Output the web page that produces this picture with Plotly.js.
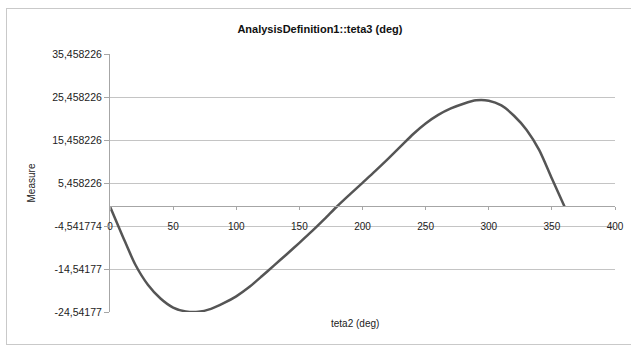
<!DOCTYPE html>
<html>
<head>
<meta charset="utf-8">
<script src="https://cdn.plot.ly/plotly-3.0.1.min.js"></script>
<style>
  html, body { margin: 0; padding: 0; background: #ffffff; }
  #frame { position: absolute; left: 6px; top: 8px; width: 640px; height: 337px;
           border: 1.5px solid #c9c9c9; box-sizing: border-box; }
  #chart { position: absolute; left: 0; top: 0; width: 631px; height: 347px; }
</style>
</head>
<body>
<div id="frame"></div>
<div id="chart"></div>
<script>
// teta2 (deg)
const teta2 = [0, 10, 20, 30, 40, 50, 60, 70, 80, 90, 100, 110, 120, 130, 140, 150, 160, 170, 180,
               190, 200, 210, 220, 230, 240, 250, 260, 270, 280, 290, 300, 310, 320, 330, 340, 350, 360];
// teta3 (deg)
const teta3 = [0, -6.9, -13.5, -18.2, -21.4, -23.5, -24.4, -24.5, -23.8, -22.5, -20.9, -18.8, -16.3,
               -13.7, -11.1, -8.45, -5.75, -2.9, 0.05, 2.8, 5.5, 8.2, 11.0, 13.9, 16.8, 19.3, 21.3,
               22.8, 23.9, 24.7, 24.6, 23.5, 21.1, 17.8, 13.1, 6.5, 0];

const yTickVals = [35.458226, 25.458226, 15.458226, 5.458226, -4.541774, -14.54177, -24.54177];
const yTickText = ["35,458226", "25,458226", "15,458226", "5,458226", "-4,541774", "-14,54177", "-24,54177"];
const xTickVals = [0, 50, 100, 150, 200, 250, 300, 350, 400];

const yMin = Math.min(...yTickVals), yMax = Math.max(...yTickVals);
const zeroPos = (0 - yMin) / (yMax - yMin);

const FONT = "Liberation Sans, Arial, sans-serif";

Plotly.newPlot('chart', [{
  x: teta2, y: teta3, type: 'scatter', mode: 'lines',
  line: { color: '#555555', width: 2.5, shape: 'spline', smoothing: 0.7 },
  hoverinfo: 'skip', showlegend: false, cliponaxis: false
}], {
  width: 631, height: 347,
  margin: { l: 110, r: 16, t: 54, b: 35.3, pad: 0 },
  paper_bgcolor: 'rgba(0,0,0,0)', plot_bgcolor: 'rgba(0,0,0,0)',
  font: { family: FONT, color: '#222222', size: 10 },
  title: { text: 'AnalysisDefinition1::teta3 (deg)', x: 0.507, xanchor: 'center', y: 0.917, yanchor: 'middle',
           font: { family: FONT, size: 11, color: '#111111', weight: 'bold' } },
  xaxis: {
    range: [0, 400], tickvals: xTickVals, ticktext: xTickVals.map(String),
    showgrid: false, zeroline: false, showline: true, linecolor: '#a6a6a6', linewidth: 1,
    anchor: 'free', position: zeroPos,
    ticks: 'outside', ticklen: 3, tickcolor: '#a6a6a6', ticklabelstandoff: 8,
    tickfont: { family: FONT, size: 10, color: '#222' }
  },
  yaxis: {
    range: [yMin, yMax], tickvals: yTickVals, ticktext: yTickText,
    showgrid: true, gridcolor: '#c4c4c4', gridwidth: 1, zeroline: false,
    showline: true, linecolor: '#a6a6a6', linewidth: 1,
    ticks: 'outside', ticklen: 5, tickcolor: '#a6a6a6',
    tickfont: { family: FONT, size: 10.5, color: '#222' },
    title: { text: 'Measure', standoff: 14, font: { family: FONT, size: 10, color: '#222' } }
  },
  annotations: [{
    text: 'teta2 (deg)', xref: 'paper', yref: 'paper', x: 0.485, y: -0.044, showarrow: false,
    font: { family: FONT, size: 10, color: '#222' }, xanchor: 'center', yanchor: 'middle'
  }]
}, { staticPlot: true, displayModeBar: false });
</script>
</body>
</html>
